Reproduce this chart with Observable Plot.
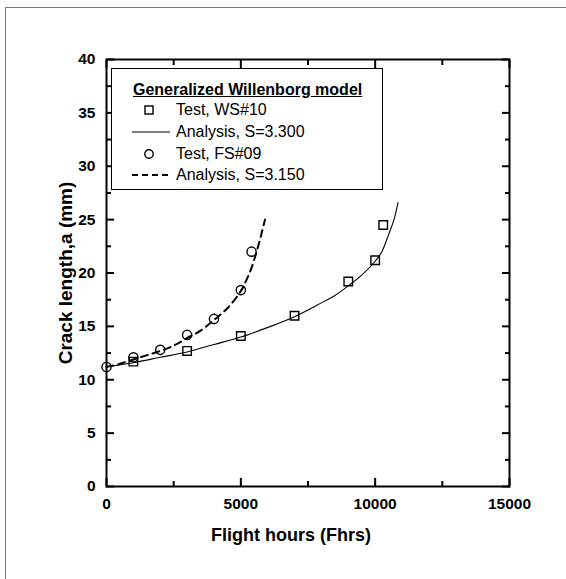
<!DOCTYPE html>
<html><head><meta charset="utf-8">
<script src="https://cdn.jsdelivr.net/npm/d3@7"></script>
<script src="https://cdn.jsdelivr.net/npm/@observablehq/plot@0.6"></script>
<style>
body{margin:0;background:#fff;font-family:"Liberation Sans",Arial,sans-serif;color:#000;}
#wrap{position:relative;width:566px;height:579px;overflow:hidden;}
#chart{position:absolute;left:0;top:0;}
.bt{position:absolute;left:5px;top:7px;width:561px;height:0;border-top:1px solid #777;}
.bl{position:absolute;left:5px;top:7px;width:0;height:572px;border-left:1px solid #777;}
#legend{position:absolute;left:111px;top:68px;width:270px;height:120px;border:1.5px solid #000;background:#fff;}
#legend .ttl{position:absolute;left:21px;top:11px;font-size:16px;font-weight:bold;text-decoration:underline;white-space:nowrap;line-height:20px;}
#legend .row{position:absolute;left:0;height:20px;width:270px;}
#legend .row svg{position:absolute;left:18px;top:0;}
#legend .row span{position:absolute;left:64px;top:0;font-size:16px;line-height:20px;white-space:nowrap;}
</style>
</head><body>
<div id="wrap">
  <div class="bt"></div><div class="bl"></div>
  <div id="chart"></div>
  <div id="legend"></div>
</div>
<script>
// ---- data ----
const wsHours = [1000, 3000, 5000, 7000, 9000, 10000, 10300];
const wsCrack = [11.7, 12.7, 14.1, 16.0, 19.2, 21.2, 24.5];
const fsHours = [0, 1000, 2000, 3000, 4000, 5000, 5400];
const fsCrack = [11.2, 12.1, 12.8, 14.2, 15.7, 18.4, 22.0];
const anaWsHours = [0, 1000, 2000, 3000, 4000, 5000, 6000, 7000, 8000, 8500, 9000, 9500, 10000, 10250, 10500, 10700, 10850];
const anaWsCrack = [11.2, 11.6, 12.1, 12.6, 13.3, 14.0, 14.9, 15.9, 17.2, 17.9, 18.8, 19.8, 21.1, 22.0, 23.6, 25.0, 26.6];
const anaFsHours = [0, 500, 1000, 1500, 2000, 2500, 3000, 3500, 4000, 4500, 5000, 5200, 5400, 5600, 5750, 5900];
const anaFsCrack = [11.2, 11.5, 11.9, 12.3, 12.7, 13.2, 13.9, 14.6, 15.6, 16.7, 18.3, 19.3, 20.5, 22.1, 23.5, 25.0];
const xTicks = [0, 5000, 10000, 15000];
const xMinor = [2500, 7500, 12500];
const yTicks = [0, 5, 10, 15, 20, 25, 30, 35, 40];
const yMinor = [2.5, 7.5, 12.5, 17.5, 22.5, 27.5, 32.5, 37.5];
const xTitle = "Flight hours (Fhrs)";
const yTitle = "Crack length,a (mm)";
const legendTitle = "Generalized Willenborg model";
const seriesNames = ["Test, WS#10", "Analysis, S=3.300", "Test, FS#09", "Analysis, S=3.150"];

const zip = (xs, ys) => xs.map((x, i) => ({x, y: ys[i]}));
const ws = zip(wsHours, wsCrack), fs = zip(fsHours, fsCrack);
const aws = zip(anaWsHours, anaWsCrack), afs = zip(anaFsHours, anaFsCrack);
const blank = () => "";
const font = {fontSize: 15.5, fontWeight: "bold"};

const chart = Plot.plot({
  width: 566, height: 579,
  marginLeft: 106, marginRight: 57, marginTop: 59, marginBottom: 93,
  x: {domain: [0, 15000]},
  y: {domain: [0, 40]},
  style: {fontFamily: "'Liberation Sans', Arial, sans-serif", color: "#000", background: "transparent", overflow: "visible"},
  marks: [
    Plot.axisX(xTicks, {anchor: "bottom", tickSize: -8, tickPadding: 19.5, strokeWidth: 2, tickFormat: d => String(d), label: null, ...font}),
    Plot.axisX(xMinor, {anchor: "bottom", tickSize: -5, strokeWidth: 2, tickFormat: blank, label: null}),
    Plot.axisX(xTicks, {anchor: "top", tickSize: -8, strokeWidth: 2, tickFormat: blank, label: null}),
    Plot.axisX(xMinor, {anchor: "top", tickSize: -5, strokeWidth: 2, tickFormat: blank, label: null}),
    Plot.axisY(yTicks, {anchor: "left", tickSize: -8, tickPadding: 19, strokeWidth: 2, tickFormat: d => String(d), label: null, ...font}),
    Plot.axisY(yMinor, {anchor: "left", tickSize: -5, strokeWidth: 2, tickFormat: blank, label: null}),
    Plot.axisY(yTicks, {anchor: "right", tickSize: -8, strokeWidth: 2, tickFormat: blank, label: null}),
    Plot.axisY(yMinor, {anchor: "right", tickSize: -5, strokeWidth: 2, tickFormat: blank, label: null}),
    Plot.frame({stroke: "#000", strokeWidth: 2}),
    Plot.line(aws, {x: "x", y: "y", curve: "catmull-rom", stroke: "#000", strokeWidth: 1.1}),
    Plot.line(afs, {x: "x", y: "y", curve: "catmull-rom", stroke: "#000", strokeWidth: 2, strokeDasharray: "7,5"}),
    Plot.dot(ws, {x: "x", y: "y", symbol: "square", r: 4.8, stroke: "#000", strokeWidth: 1.4, fill: "none"}),
    Plot.dot(fs, {x: "x", y: "y", symbol: "circle", r: 4.6, stroke: "#000", strokeWidth: 1.4, fill: "none"}),
    Plot.text([xTitle], {frameAnchor: "bottom", dx: -17, dy: 49, lineAnchor: "middle", fontSize: 18, fontWeight: "bold"}),
    Plot.text([yTitle], {frameAnchor: "left", dx: -41, rotate: -90, textAnchor: "middle", lineAnchor: "middle", fontSize: 19, fontWeight: "bold"})
  ]
});
document.getElementById("chart").appendChild(chart);

// legend
const lg = document.getElementById("legend");
const t = document.createElement("div");
t.className = "ttl"; t.textContent = legendTitle; lg.appendChild(t);
const sym = [
  '<rect x="15" y="6" width="8" height="8" fill="none" stroke="#000" stroke-width="1.4"/>',
  '<line x1="2" y1="10" x2="40" y2="10" stroke="#000" stroke-width="1.1"/>',
  '<circle cx="19" cy="10" r="4.2" fill="none" stroke="#000" stroke-width="1.4"/>',
  '<line x1="2" y1="10" x2="42" y2="10" stroke="#000" stroke-width="2" stroke-dasharray="6,4"/>'
];
const rowTops = [31, 53, 75, 96];
seriesNames.forEach((name, i) => {
  const r = document.createElement("div");
  r.className = "row"; r.style.top = rowTops[i] + "px";
  r.innerHTML = '<svg width="46" height="20">' + sym[i] + '</svg>';
  const s = document.createElement("span"); s.textContent = name; r.appendChild(s);
  lg.appendChild(r);
});
</script>
</body></html>
